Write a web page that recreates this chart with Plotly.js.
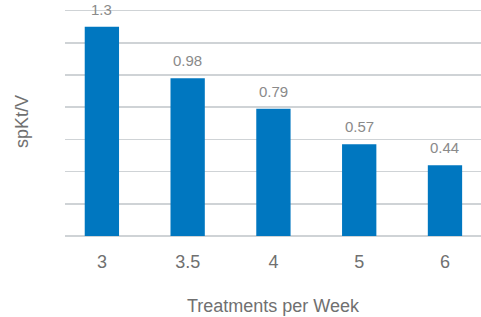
<!DOCTYPE html>
<html>
<head>
<meta charset="utf-8">
<script src="https://cdn.plot.ly/plotly-3.0.1.min.js"></script>
<style>html,body{margin:0;padding:0;background:#fff;}#chart{width:481px;height:317px;}</style>
</head>
<body>
<div id="chart"></div>
<script>
var categories = ["3", "3.5", "4", "5", "6"];
var values = [1.3, 0.98, 0.79, 0.57, 0.44];
var labels = ["1.3", "0.98", "0.79", "0.57", "0.44"];

var FONT = "Liberation Sans, Arial, sans-serif";

var trace = {
  type: "bar",
  x: categories,
  y: values,
  marker: {color: "#0077c0"},
  width: 0.4,
  hoverinfo: "none"
};

var annotations = categories.map(function (c, i) {
  return {
    x: i, y: values[i], xref: "x", yref: "y",
    text: labels[i], showarrow: false,
    yanchor: "bottom", yshift: 7,
    font: {family: FONT, size: 15, color: "#8a8a8a"}
  };
});

var layout = {
  width: 481, height: 317,
  margin: {l: 65, r: 0, t: 7, b: 81},
  paper_bgcolor: "#fff", plot_bgcolor: "#fff",
  showlegend: false,
  bargap: 0.6,
  xaxis: {
    type: "category",
    range: [-0.43, 4.42],
    showgrid: false, zeroline: false, showline: false,
    ticks: "", ticklabelstandoff: 13,
    tickfont: {family: FONT, size: 18, color: "#707070"},
    title: {text: "Treatments per Week", standoff: 28,
            font: {family: FONT, size: 18, color: "#707070"}},
    fixedrange: true
  },
  yaxis: {
    range: [0, 1.422],
    dtick: 0.2, tick0: 0,
    showticklabels: false, ticks: "",
    showgrid: true, gridcolor: "#cfd3d6", gridwidth: 1.5,
    zeroline: true, zerolinecolor: "#cfd3d6", zerolinewidth: 1.5,
    showline: false,
    title: {text: "spKt/V", standoff: 30,
            font: {family: FONT, size: 18, color: "#707070"}},
    fixedrange: true
  },
  annotations: annotations
};

Plotly.newPlot("chart", [trace], layout, {displayModeBar: false, staticPlot: true});
</script>
</body>
</html>
